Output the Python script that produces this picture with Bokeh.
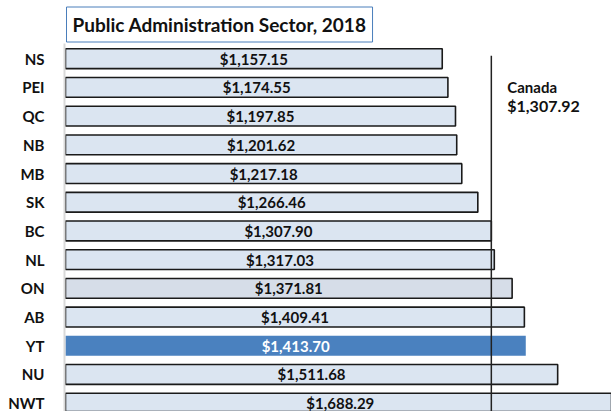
from bokeh.plotting import figure
from bokeh.models import ColumnDataSource, Range1d, FixedTicker, Label, Title
from bokeh.core.properties import value
from bokeh.embed import file_html
from bokeh.resources import INLINE

regions = ["NS", "PEI", "QC", "NB", "MB", "SK", "BC", "NL", "ON", "AB", "YT", "NU", "NWT"]
wages = [1157.15, 1174.55, 1197.85, 1201.62, 1217.18, 1266.46, 1307.90, 1317.03,
         1371.81, 1409.41, 1413.70, 1511.68, 1688.29]
canada = 1307.92
title_text = "Public Administration Sector, 2018"

FONT = "Lato"
pos = list(range(len(regions)))
fills = []
lines = []
tcolors = []
for r in regions:
    if r == "YT":
        fills.append("#4a81bf"); lines.append(None); tcolors.append("white")
    elif r == "ON":
        fills.append("#d6dde8"); lines.append("#1a1a1a"); tcolors.append("#111111")
    else:
        fills.append("#dbe5f1"); lines.append("#1a1a1a"); tcolors.append("#111111")

src = ColumnDataSource(dict(
    y=pos, right=wages, mid=[w / 2 for w in wages],
    lab=["${:,.2f}".format(w) for w in wages],
    fill=fills, line=lines, tc=tcolors))

p = figure(width=611, height=411, output_backend="svg", toolbar_location=None,
           x_range=Range1d(-3, 1677), y_range=Range1d(12.29, -0.53),
           min_border_left=64, min_border_top=43, min_border_right=0, min_border_bottom=0,
           title=None)
p.outline_line_color = None
p.xgrid.visible = False
p.ygrid.visible = False
p.xaxis.visible = False

t = Title(text=title_text, align="left", offset=2, text_font=FONT, text_font_style="bold",
          text_font_size="19px", text_color="#111111", border_line_color="#4a7ebb",
          border_line_width=1, background_fill_color="white", padding=6, standoff=3)
p.add_layout(t, "above")

p.hbar(y="y", left=0, right="right", height=0.69, fill_color="fill", line_color="line",
       line_width=1.6, source=src)
p.text(x="mid", y="y", text="lab", source=src, text_color="tc", text_align="center",
       text_baseline="middle", text_font=value(FONT), text_font_style="bold",
       text_font_size="15px", x_offset=0)

p.segment(x0=[canada], x1=[canada], y0=[-0.1], y1=[13], line_color="#222222", line_width=1.5)

p.add_layout(Label(x=1357, y=1.0, text="Canada", text_font=FONT, text_font_style="bold",
                   text_font_size="15px", text_baseline="middle", text_color="#111111"))
p.add_layout(Label(x=1357, y=1.63, text="${:,.2f}".format(canada), text_font=FONT,
                   text_font_style="bold", text_font_size="16px", text_baseline="middle",
                   text_color="#111111"))

ya = p.yaxis[0]
ya.ticker = FixedTicker(ticks=pos)
ya.major_label_overrides = {i: r for i, r in enumerate(regions)}
ya.major_tick_line_color = None
ya.minor_tick_line_color = None
ya.axis_line_color = "#d9d9d9"
ya.axis_line_width = 2
ya.major_label_standoff = 14
ya.major_label_text_font = FONT
ya.major_label_text_font_style = "bold"
ya.major_label_text_font_size = "15px"
ya.major_label_text_color = "#111111"

open("out.html", "w").write(file_html(p, INLINE))
